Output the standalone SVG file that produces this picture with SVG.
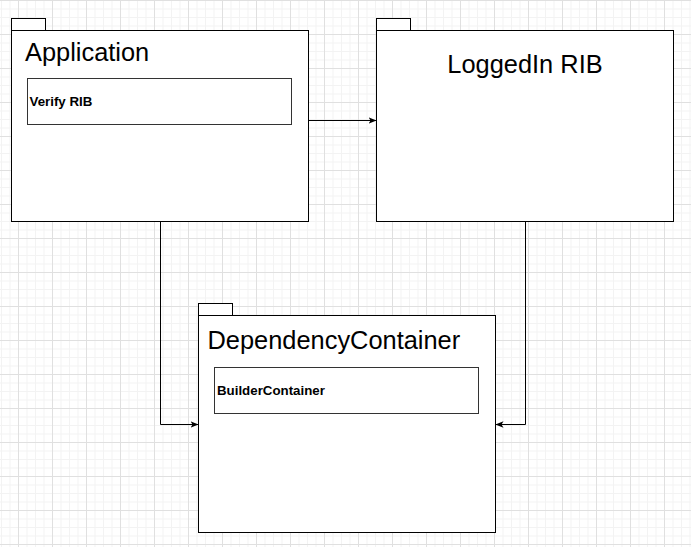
<svg xmlns="http://www.w3.org/2000/svg" width="691" height="547" viewBox="0 0 691 547">
  <defs>
    <pattern id="grid" x="18" y="0" width="34" height="34" patternUnits="userSpaceOnUse">
      <rect width="34" height="34" fill="#ffffff"/>
      <path d="M9 0V34M17.5 0V34M26 0V34M0 9H34M0 17.5H34M0 26H34" stroke="#f3f3f3" stroke-width="1" fill="none"/>
      <path d="M0.5 0V34M0 0.5H34" stroke="#e0e0e0" stroke-width="1" fill="none"/>
    </pattern>
    <marker id="arrow" viewBox="0 0 8 8" refX="7.5" refY="4" markerWidth="8" markerHeight="8" markerUnits="userSpaceOnUse" orient="auto">
      <path d="M0 0.8 L8 4 L0 7.2 L2 4 Z" fill="#000000"/>
    </marker>
    <style>
      .box { fill: #ffffff; stroke: #000000; stroke-width: 1; }
      .inner { fill: #ffffff; stroke: #333333; stroke-width: 1; }
      .title { font-family: "Liberation Sans", Arial, sans-serif; font-size: 25.4px; fill: #000000; }
      .label { font-family: "Liberation Sans", Arial, sans-serif; font-size: 13.3px; font-weight: bold; fill: #000000; }
      .conn { fill: none; stroke: #000000; stroke-width: 1; marker-end: url(#arrow); }
    </style>
  </defs>
  <rect width="691" height="547" fill="url(#grid)"/>

  <g id="connectors">
    <path class="conn" d="M308.5 120.5 H376"/>
    <path class="conn" d="M160.5 221.5 V424.5 H198"/>
    <path class="conn" d="M525.5 221.5 V424.5 H496"/>
  </g>

  <g id="application">
    <rect class="box" x="11.5" y="18.5" width="34" height="12"/>
    <rect class="box" x="11.5" y="30.5" width="297" height="191"/>
    <text class="title" x="25" y="61">Application</text>
    <g id="verify-rib">
      <rect class="inner" x="27.5" y="78.5" width="264" height="46"/>
      <text class="label" x="29.5" y="106">Verify RIB</text>
    </g>
  </g>

  <g id="loggedin-rib">
    <rect class="box" x="376.5" y="18.5" width="34" height="12"/>
    <rect class="box" x="376.5" y="30.5" width="297" height="191"/>
    <text class="title" x="525" y="73" text-anchor="middle">LoggedIn RIB</text>
  </g>

  <g id="dependency-container">
    <rect class="box" x="198.5" y="303.5" width="34" height="12"/>
    <rect class="box" x="198.5" y="315.5" width="297" height="217"/>
    <text class="title" x="207.5" y="348.5">DependencyContainer</text>
    <g id="builder-container">
      <rect class="inner" x="214.5" y="367.5" width="264" height="46"/>
      <text class="label" x="217" y="395">BuilderContainer</text>
    </g>
  </g>
</svg>
